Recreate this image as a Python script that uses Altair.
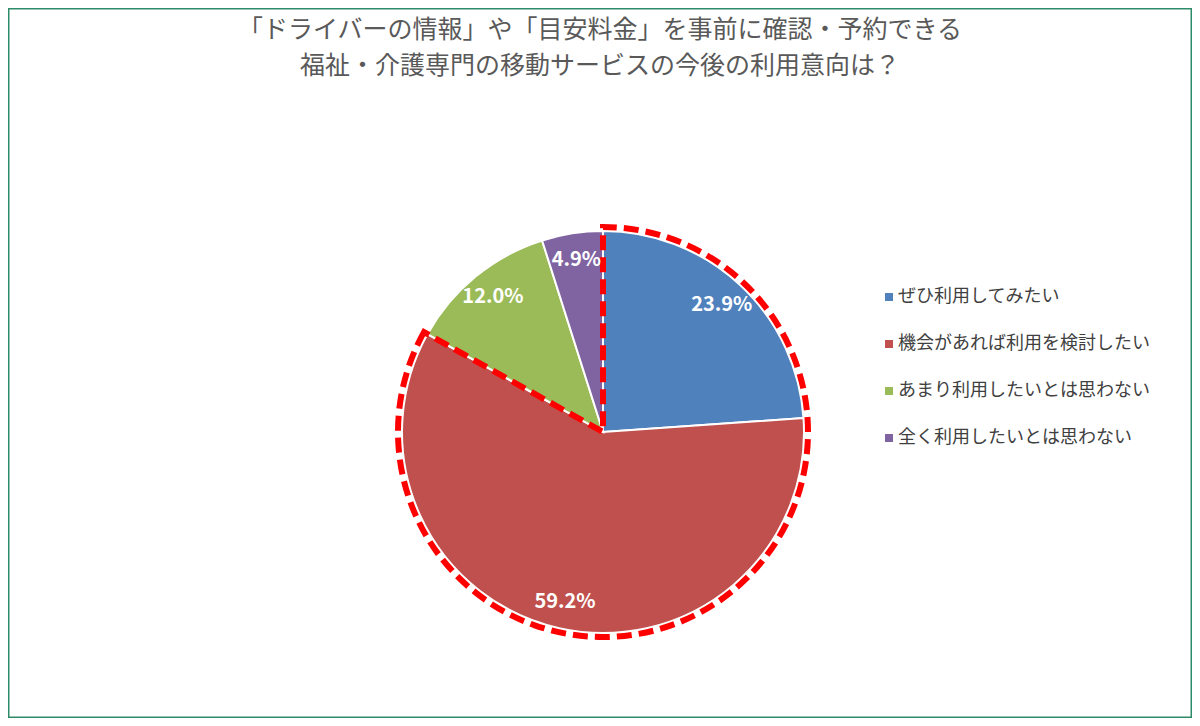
import altair as alt
import pandas as pd

categories = ["ぜひ利用してみたい", "機会があれば利用を検討したい", "あまり利用したいとは思わない", "全く利用したいとは思わない"]
values = [23.9, 59.2, 12.0, 4.9]
labels = ["23.9%", "59.2%", "12.0%", "4.9%"]
colors = ["#4F81BD", "#C0504D", "#9BBB59", "#8064A2"]
title_lines = ["「ドライバーの情報」や「目安料金」を事前に確認・予約できる", "福祉・介護専門の移動サービスの今後の利用意向は？"]

df = pd.DataFrame({"cat": categories, "value": values, "label": labels, "order": list(range(len(values)))})

# highlighted outline: first two answers merged vs. the rest
hl_value = values[0] + values[1]
rest_value = sum(values) - hl_value
df_outline = pd.DataFrame({"grp": ["hl", "rest"], "value": [hl_value, rest_value], "order": [0, 1]})

CX, CY, R = 595, 424, 201
FONT = "Noto Sans CJK JP"

base = alt.Chart(df).encode(
    theta=alt.Theta("value:Q", stack=True),
    order=alt.Order("order:Q"),
    x=alt.value(CX),
    y=alt.value(CY),
)

pie = base.mark_arc(radius=R, stroke="white", strokeWidth=2).encode(
    color=alt.Color(
        "cat:N",
        scale=alt.Scale(domain=categories, range=colors),
        sort=categories,
        legend=alt.Legend(
            title=None,
            orient="none",
            legendX=872,
            legendY=280,
            symbolType="square",
            symbolSize=64,
            symbolStrokeWidth=0,
            labelFontSize=18,
            labelFont=FONT,
            labelColor="#404040",
            labelLimit=400,
            rowPadding=29,
            labelOffset=0,
        ),
    )
)

text = base.mark_text(
    radius=174, font=FONT, fontSize=20, fontWeight="bold", color="white"
).encode(text="label:N")

outline = alt.Chart(df_outline).mark_arc(
    radius=205,
    fill="transparent",
    stroke="#FF0000",
    strokeWidth=6,
    strokeDash=[15, 7],
).encode(
    theta=alt.Theta("value:Q", stack=True),
    order=alt.Order("order:Q"),
    x=alt.value(CX),
    y=alt.value(CY),
    strokeOpacity=alt.condition(alt.datum.grp == "hl", alt.value(1), alt.value(0)),
)

chart = alt.layer(pie, outline, text).properties(
    width=1184,
    height=710,
    autosize=alt.AutoSizeParams(type="none"),
    padding=0,
    title=alt.Title(
        text=title_lines,
        anchor="middle",
        font=FONT,
        fontSize=25,
        fontWeight="normal",
        color="#595959",
        lineHeight=36,
        baseline="top",
        offset=-71,
    ),
).configure_view(
    stroke="#2E8B6A", strokeWidth=3
)

chart.save("out.html", embed_options={"renderer": "svg", "actions": False})
